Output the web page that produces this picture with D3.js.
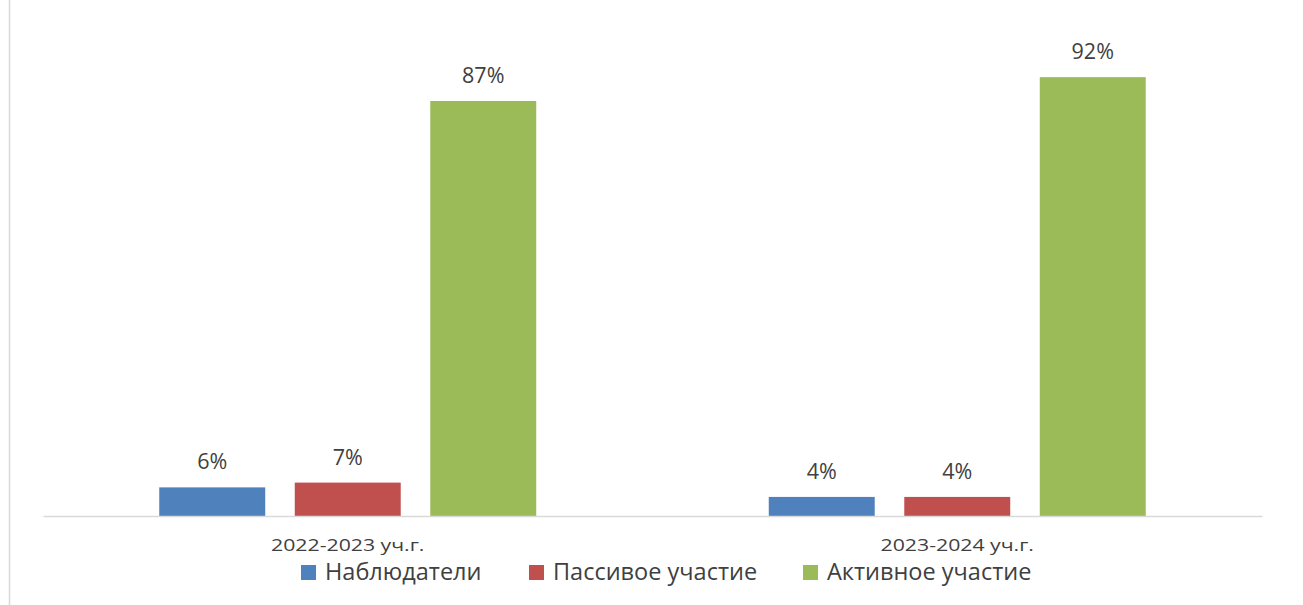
<!DOCTYPE html>
<html><head><meta charset="utf-8">
<script src="https://cdn.jsdelivr.net/npm/d3@7"></script>
<style>html,body{margin:0;padding:0;background:#fff;overflow:hidden}svg{display:block}</style>
</head><body>
<svg id="c" width="1303" height="605"></svg>
<script>
const categories = ["2022-2023 уч.г.", "2023-2024 уч.г."];
const seriesNames = ["Наблюдатели", "Пассивое участие", "Активное участие"];
const observers = [0.06, 0.04];
const passive = [0.07, 0.04];
const active = [0.87, 0.92];
const seriesValues = [observers, passive, active];
const colors = ["#4F81BD", "#C0504D", "#9BBB59"];

const svg = d3.select("#c");
const W = 1303, H = 605;
const font = "Open Sans, Noto Sans, sans-serif";

// frame left edge
svg.append("line").attr("x1", 9.5).attr("x2", 9.5).attr("y1", 0).attr("y2", H)
  .attr("stroke", "#d9d9d9").attr("stroke-width", 1.5);

const plotL = 43, plotR = 1262, baseY = 516;
const x0 = d3.scaleBand().domain(categories).range([plotL, plotR]).paddingInner(0).paddingOuter(0);
const x1 = d3.scaleBand().domain(seriesNames).range([0, x0.bandwidth()]).paddingInner(0.218).paddingOuter(0.858);
const y = d3.scaleLinear().domain([0, 1]).range([baseY, baseY - 477]);

const data = [];
categories.forEach((c, i) => seriesNames.forEach((s, j) => data.push({c, s, j, v: seriesValues[j][i]})));

const g = svg.append("g");
g.selectAll("rect").data(data).join("rect")
  .attr("x", d => x0(d.c) + x1(d.s))
  .attr("width", x1.bandwidth())
  .attr("y", d => y(d.v))
  .attr("height", d => y(0) - y(d.v))
  .attr("fill", d => colors[d.j]);

g.selectAll("text.lbl").data(data).join("text").attr("class", "lbl")
  .attr("x", d => x0(d.c) + x1(d.s) + x1.bandwidth() / 2)
  .attr("y", d => y(d.v) - 18)
  .attr("text-anchor", "middle")
  .attr("font-family", font).attr("font-size", 21.5).attr("fill", "#404040")
  .text(d => Math.round(d.v * 100) + "%");

// axis
const ax = svg.append("g").attr("transform", `translate(0,${baseY})`)
  .call(d3.axisBottom(x0).tickSize(0));
ax.select(".domain").attr("stroke", "#d9d9d9").attr("stroke-width", 1.5);
ax.selectAll(".tick text").attr("y", 35).attr("dy", 0)
  .attr("font-family", font).attr("font-size", 17).attr("fill", "#404040")
  .attr("transform", "scale(1.25,1)");

// legend
const legX = [301, 529, 803];
const leg = svg.append("g");
seriesNames.forEach((s, j) => {
  leg.append("rect").attr("x", legX[j]).attr("y", 565).attr("width", 15).attr("height", 15).attr("fill", colors[j]);
  leg.append("text").attr("x", legX[j] + 24).attr("y", 580)
    .attr("font-family", font).attr("font-size", 23.5).attr("fill", "#404040").text(s);
});
</script>
</body></html>
